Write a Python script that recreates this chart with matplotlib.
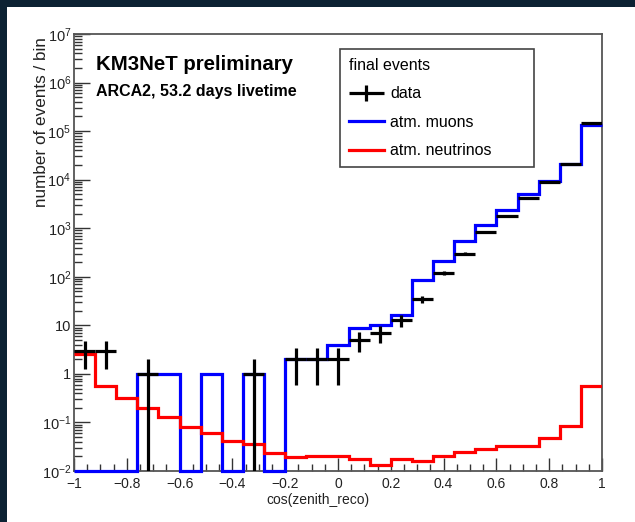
import numpy as np
import matplotlib
matplotlib.use('Agg')
import matplotlib.pyplot as plt
from matplotlib.ticker import MultipleLocator, FixedLocator, LogLocator, FuncFormatter, NullFormatter
from matplotlib.patches import Rectangle
from matplotlib.container import ErrorbarContainer
from matplotlib.legend_handler import HandlerErrorbar

plt.rcParams['font.family'] = ['Liberation Sans', 'DejaVu Sans']
plt.rcParams['mathtext.fontset'] = 'custom'
plt.rcParams['mathtext.rm'] = 'Liberation Sans'
plt.rcParams['mathtext.it'] = 'Liberation Sans:italic'
plt.rcParams['mathtext.bf'] = 'Liberation Sans:bold'

# 25 bins in cos(zenith) from -1 to 1
bin_edges = np.linspace(-1, 1, 26)
bin_centers = 0.5 * (bin_edges[:-1] + bin_edges[1:])

data_counts = [3, 3, 0, 1, 0, 0, 0, 0, 1, 0, 2, 2, 2, 5, 7, 13, 35, 120,
               300, 830, 1800, 4100, 8800, 21000, 145000]
muons = [0, 0, 0, 1, 1, 0, 1, 0, 1, 0, 2, 2, 4, 9, 10, 16.5, 84, 212,
         550, 1180, 2400, 5100, 9500, 21300, 135000]
neutrinos = [2.6, 0.55, 0.32, 0.197, 0.128, 0.080, 0.060, 0.041, 0.036, 0.023,
             0.0195, 0.0205, 0.020, 0.018, 0.0134, 0.0175, 0.016, 0.020,
             0.025, 0.029, 0.032, 0.033, 0.048, 0.085, 0.57]

ytick_vals = [1e-2, 1e-1, 1, 10, 1e2, 1e3, 1e4, 1e5, 1e6, 1e7]
ytick_labels = [r'$10^{-2}$', r'$10^{-1}$', '1', '10', r'$10^{2}$', r'$10^{3}$',
                r'$10^{4}$', r'$10^{5}$', r'$10^{6}$', r'$10^{7}$']

ymin, ymax = 1e-2, 1e7

fig = plt.figure(figsize=(6.35, 5.22), dpi=100)
fig.patch.set_facecolor('#0c2233')
fig.patches.append(Rectangle((7 / 635, 0), 1 - 7 / 635, 1 - 7 / 522,
                             transform=fig.transFigure, facecolor='white',
                             edgecolor='none', zorder=-10))

ax = fig.add_axes([74 / 635, 1 - 471 / 522, 528 / 635, 437 / 522])
ax.set_zorder(1)
ax.set_facecolor('white')

data_counts = np.array(data_counts, dtype=float)
muons = np.array(muons, dtype=float)
neutrinos = np.array(neutrinos, dtype=float)

# histograms (empty bins drawn on the lower edge, like ROOT)
ax.stairs(np.clip(muons, ymin, None), bin_edges, baseline=None,
          color='#0000ff', lw=2.3, label='atm. muons', clip_on=False, zorder=3)
ax.stairs(neutrinos, bin_edges, baseline=None,
          color='#ff0000', lw=2.3, label='atm. neutrinos', zorder=4)

# data with Poisson errors, empty bins not shown
mask = data_counts > 0
yd = data_counts[mask]
err = np.sqrt(yd)
err_low = np.minimum(err, yd - 1e-4)
half_width = 0.5 * np.diff(bin_edges)[mask]
ax.errorbar(bin_centers[mask], yd, xerr=half_width, yerr=[err_low, err],
            fmt='none', ecolor='black', elinewidth=2.3, capsize=0,
            label='data', zorder=5)

ax.set_yscale('log')
ax.set_xlim(-1, 1)
ax.set_ylim(ymin, ymax)

ax.xaxis.set_major_locator(MultipleLocator(0.2))
ax.xaxis.set_minor_locator(MultipleLocator(0.05))
ax.xaxis.set_major_formatter(FuncFormatter(
    lambda v, p: f"{round(v, 2) + 0:g}".replace('-', '\u2212')))
ax.yaxis.set_major_locator(FixedLocator(ytick_vals))
ax.set_yticklabels(ytick_labels)
ax.yaxis.set_minor_locator(LogLocator(base=10, subs=np.arange(2, 10), numticks=50))
ax.yaxis.set_minor_formatter(NullFormatter())

ax.tick_params(axis='x', which='major', direction='in', length=9.4, width=1,
               labelsize=10, pad=4, colors='#333333', labelcolor='#222222')
ax.tick_params(axis='x', which='minor', direction='in', length=4.8, width=1,
               colors='#333333')
ax.tick_params(axis='y', which='major', direction='in', length=11.5, width=1,
               labelsize=10.5, pad=2, colors='#333333', labelcolor='#222222')
ax.tick_params(axis='y', which='minor', direction='in', length=5.8, width=1,
               colors='#333333')
for s in ax.spines.values():
    s.set_color('#555555')
    s.set_linewidth(1.3)

ax.set_xlabel('cos(zenith_reco)', fontsize=10, color='#222222')
ax.xaxis.label.set_va('center')
ax.xaxis.set_label_coords(0.462, -0.066)
fig.text(42 / 635, 1 - 37 / 522, 'number of events / bin', rotation=90,
         ha='center', va='top', fontsize=12.3, color='#222222')

ax.text(0.041, 0.918, 'KM3NeT preliminary', transform=ax.transAxes,
        fontsize=14.7, fontweight='bold', va='baseline', ha='left')
ax.text(0.041, 0.858, 'ARCA2, 53.2 days livetime', transform=ax.transAxes,
        fontsize=11.5, fontweight='bold', va='baseline', ha='left')

h, l = ax.get_legend_handles_labels()
order = [l.index('data'), l.index('atm. muons'), l.index('atm. neutrinos')]
leg = ax.legend([h[i] for i in order], [l[i] for i in order],
                title='final events', title_fontsize=11.5, fontsize=11.5,
                loc='upper left', bbox_to_anchor=(0.504, 0.696, 0.367, 0.27),
                mode='expand', borderaxespad=0, fancybox=False, framealpha=1,
                edgecolor='#444444', handlelength=2.2, handletextpad=0.4,
                labelspacing=0.85, borderpad=0.55, alignment='left',
                handler_map={ErrorbarContainer: HandlerErrorbar(xerr_size=1.1,
                                                                yerr_size=0.5)})
leg.get_frame().set_linewidth(1.2)
leg.set_zorder(10)

fig.savefig('out.png', dpi=100, facecolor=fig.get_facecolor())
